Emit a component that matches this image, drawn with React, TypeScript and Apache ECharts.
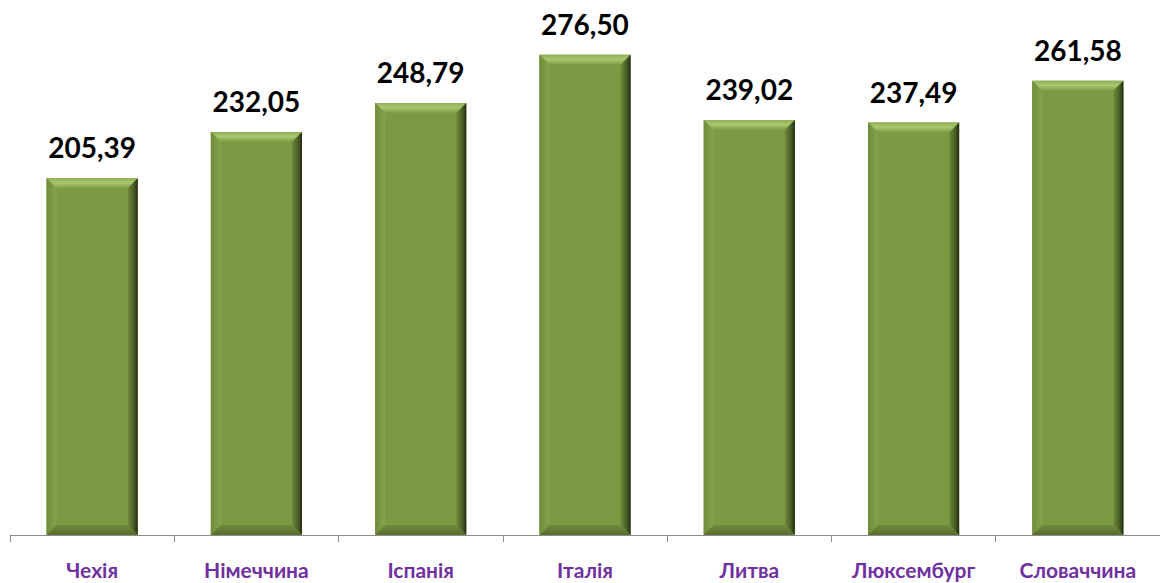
import React, { useEffect, useRef } from "react";
import * as echarts from "echarts";

const categories = ["Чехія", "Німеччина", "Іспанія", "Італія", "Литва", "Люксембург", "Словаччина"];
const values = [205.39, 232.05, 248.79, 276.5, 239.02, 237.49, 261.58];

export default function App() {
  const ref = useRef<HTMLDivElement>(null);
  useEffect(() => {
    const chart = echarts.init(ref.current!, null, { renderer: "svg" });
    const LG = echarts.graphic.LinearGradient;
    chart.setOption({
      animation: false,
      grid: { left: 10, right: 0, top: 14, bottom: 48 },
      xAxis: {
        type: "category",
        data: categories,
        axisLine: { show: true, lineStyle: { color: "#8c8c8c", width: 1 } },
        axisTick: { show: true, interval: 0, length: 7, lineStyle: { color: "#8c8c8c" } },
        axisLabel: {
          interval: 0,
          hideOverlap: false,
          margin: 24,
          color: "#7030A0",
          fontWeight: "bold",
          fontSize: 21,
          fontFamily: "Lato, 'Open Sans', sans-serif",
        },
      },
      yAxis: { type: "value", min: 0, max: 300, show: false },
      series: [
        {
          type: "custom",
          data: values.map((v, i) => [i, v]),
          renderItem: (params: any, api: any) => {
            const idx = api.value(0);
            const val = api.value(1);
            const top = api.coord([idx, val]);
            const base = api.coord([idx, 0]);
            const bw = api.size([1, 0])[0] * 0.555;
            const x0 = top[0] - bw / 2;
            const x1 = top[0] + bw / 2;
            const y0 = top[1];
            const y1 = base[1];
            const b = 10;
            return {
              type: "group",
              children: [
                { type: "rect", shape: { x: x0, y: y0, width: bw, height: y1 - y0 }, style: { fill: "#7c9a44" } },
                {
                  type: "polygon",
                  shape: { points: [[x0, y0], [x1, y0], [x1 - b, y0 + b], [x0 + b, y0 + b]] },
                  style: { fill: new LG(0, 0, 0, 1, [{ offset: 0, color: "#8fae55" }, { offset: 0.45, color: "#a9c86f" }, { offset: 1, color: "#7f9d47" }]) },
                },
                {
                  type: "polygon",
                  shape: { points: [[x0, y0], [x0 + b, y0 + b], [x0 + b, y1 - b], [x0, y1]] },
                  style: { fill: new LG(0, 0, 1, 0, [{ offset: 0, color: "#6f8c3a" }, { offset: 1, color: "#86a44d" }]) },
                },
                {
                  type: "polygon",
                  shape: { points: [[x1, y0], [x1 - b, y0 + b], [x1 - b, y1 - b], [x1, y1]] },
                  style: { fill: new LG(0, 0, 1, 0, [{ offset: 0, color: "#6e8a3a" }, { offset: 0.6, color: "#4a5e25" }, { offset: 1, color: "#222c10" }]) },
                },
                {
                  type: "polygon",
                  shape: { points: [[x0, y1], [x0 + b, y1 - b], [x1 - b, y1 - b], [x1, y1]] },
                  style: { fill: new LG(0, 0, 0, 1, [{ offset: 0, color: "#6f8b3b" }, { offset: 1, color: "#566e2c" }]) },
                },
                {
                  type: "text",
                  style: {
                    x: top[0],
                    y: y0 - 31,
                    text: val.toFixed(2).replace(".", ","),
                    align: "center",
                    verticalAlign: "middle",
                    fill: "#000000",
                    fontSize: 28,
                    fontWeight: "bold",
                    fontFamily: "Lato, 'Open Sans', sans-serif",
                  },
                },
              ],
            };
          },
        },
      ],
    });
    return () => chart.dispose();
  }, []);
  return <div ref={ref} style={{ width: 1160, height: 583, position: "absolute", left: 0, top: 0 }} />;
}
